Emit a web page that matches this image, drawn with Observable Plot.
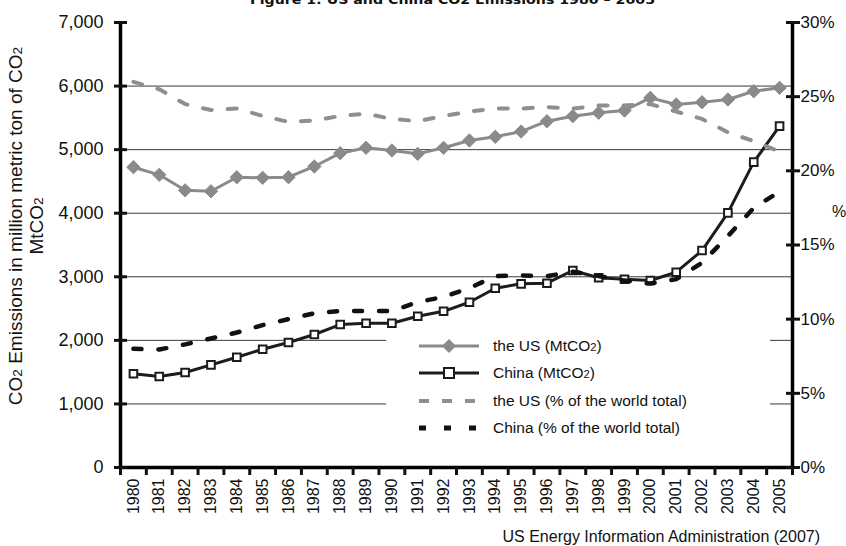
<!DOCTYPE html>
<html>
<head>
<meta charset="utf-8">
<script src="https://cdn.jsdelivr.net/npm/d3@7"></script>
<script src="https://cdn.jsdelivr.net/npm/@observablehq/plot@0.6"></script>
<style>
  body { margin: 0; background: #fff; }
  #wrap { position: relative; width: 846px; height: 546px; overflow: hidden; background: #fff;
          font-family: "Liberation Sans", Arial, sans-serif; color: #111; }
  #title { position: absolute; left: 0; top: -9px; width: 846px; }
  #ylabel { position: absolute; left: 27px; top: 226px; transform: translate(-50%, -50%) rotate(-90deg);
            white-space: nowrap; text-align: center; font-size: 19px; line-height: 19px; }
  #pct { position: absolute; left: 832px; top: 203px; font-size: 16px; }
  #caption { position: absolute; right: 26px; top: 528px; font-size: 16px; white-space: nowrap; }
  #legend { position: absolute; left: 386px; top: 333px; width: 384px; height: 108px; background: #fff; }
  .row { position: absolute; left: 0; height: 20px; display: flex; align-items: center; font-size: 15.5px; white-space: nowrap; }
  .row svg { margin-left: 33px; margin-right: 14px; }
  .sub { font-size: 72%; }
</style>
</head>
<body>
<div id="wrap">
  <svg id="title" height="20" width="846"></svg>
  <div id="ylabel">CO<span class="sub">2</span> Emissions in million metric ton of CO<span class="sub">2</span><br>MtCO<span class="sub">2</span></div>
  <div id="pct">%</div>
  <div id="legend"></div>
  <div id="caption">US Energy Information Administration (2007)</div>
</div>
<script>
// Emissions by year, 1980–2005
const years = [1980, 1981, 1982, 1983, 1984, 1985, 1986, 1987, 1988, 1989, 1990, 1991, 1992,
               1993, 1994, 1995, 1996, 1997, 1998, 1999, 2000, 2001, 2002, 2003, 2004, 2005];

// million metric tons of CO2
const usMt = [4724, 4604, 4360, 4345, 4566, 4557, 4566, 4735, 4944, 5029, 4987, 4934, 5029,
              5144, 5202, 5285, 5447, 5526, 5580, 5616, 5815, 5710, 5746, 5789, 5919, 5973];
const chinaMt = [1474, 1431, 1494, 1615, 1735, 1861, 1966, 2092, 2249, 2270, 2270, 2380, 2457,
                 2600, 2820, 2889, 2899, 3099, 2984, 2962, 2942, 3072, 3413, 4006, 4803, 5369];

// share of the world total, %
const usPct = [26.0, 25.5, 24.5, 24.1, 24.2, 23.7, 23.3, 23.4, 23.7, 23.85, 23.5, 23.35, 23.7,
               24.0, 24.2, 24.2, 24.3, 24.2, 24.4, 24.4, 24.5, 24.0, 23.5, 22.6, 22.0, 21.3];
const chinaPct = [8.0, 7.95, 8.3, 8.7, 9.1, 9.6, 10.0, 10.4, 10.55, 10.55, 10.55, 11.15, 11.5,
                  12.1, 12.9, 12.95, 12.9, 13.2, 12.9, 12.6, 12.4, 12.7, 13.8, 15.6, 17.5, 18.6];

// axis ticks
const leftTicks = [0, 1000, 2000, 3000, 4000, 5000, 6000, 7000];
const gridTicks = [1000, 2000, 3000, 4000, 5000, 6000];
const rightTicks = [0, 5, 10, 15, 20, 25, 30];

const leftMax = 7000, rightMax = 30;
const toLeft = p => p * leftMax / rightMax;           // % axis mapped onto the tonnage axis
const yearEdges = years.map(y => y - 0.5).concat([years[years.length - 1] + 0.5]);

const rows = years.map((year, i) => ({
  year, us: usMt[i], china: chinaMt[i], usP: toLeft(usPct[i]), chinaP: toLeft(chinaPct[i])
}));

const US_GRAY = "#8a8a8a", CN_BLACK = "#1c1c1c";

const chart = Plot.plot({
  width: 846,
  height: 546,
  marginTop: 22,
  marginBottom: 79,
  marginLeft: 120,
  marginRight: 54,
  x: {domain: [yearEdges[0], yearEdges[yearEdges.length - 1]], axis: null},
  y: {domain: [0, leftMax], axis: null},
  style: {fontFamily: "Liberation Sans, Arial, sans-serif", fontSize: "16px", color: "#111", background: "transparent"},
  marks: [
    Plot.gridY(gridTicks, {stroke: "#3a3a3a", strokeOpacity: 1, strokeWidth: 1}),

    Plot.line(rows, {x: "year", y: "us", stroke: US_GRAY, strokeWidth: 3}),
    Plot.dot(rows, {x: "year", y: "us", symbol: "diamond2", r: 6, fill: US_GRAY, stroke: US_GRAY, strokeWidth: 1}),

    Plot.line(rows, {x: "year", y: "china", stroke: CN_BLACK, strokeWidth: 3}),
    Plot.dot(rows, {x: "year", y: "china", symbol: "square", r: 4.3, fill: "white", stroke: CN_BLACK, strokeWidth: 2}),

    Plot.line(rows, {x: "year", y: "usP", stroke: "#8f8f8f", strokeWidth: 4, strokeDasharray: "9,16"}),
    Plot.line(rows, {x: "year", y: "chinaP", stroke: "#111", strokeWidth: 4.5, strokeDasharray: "8,17"}),

    // frame: left, right and bottom axis lines
    Plot.ruleX([yearEdges[0], yearEdges[yearEdges.length - 1]], {stroke: "#000", strokeWidth: 3.5}),
    Plot.ruleY([0], {stroke: "#000", strokeWidth: 3.5}),

    // left axis: crossing ticks + labels
    Plot.axisY(leftTicks, {anchor: "left", tickSize: 13, dx: 7, strokeWidth: 3, fill: "none", label: null}),
    Plot.axisY(leftTicks, {anchor: "left", tickSize: 0, tickPadding: 17, fontSize: 18,
                           tickFormat: d3.format(","), label: null}),

    // right axis (% of world total)
    Plot.axisY(rightTicks.map(toLeft), {anchor: "right", tickSize: 14, dx: -7, strokeWidth: 3, fill: "none", label: null}),
    Plot.axisY(rightTicks.map(toLeft), {anchor: "right", tickSize: 0, tickPadding: 8, fontSize: 17,
                                        tickFormat: v => Math.round(v * rightMax / leftMax) + "%", label: null}),

    // bottom axis: ticks between years, rotated year labels
    Plot.axisX(yearEdges, {anchor: "bottom", tickSize: 8, strokeWidth: 3, fill: "none", label: null}),
    Plot.axisX(years, {anchor: "bottom", tickSize: 0, tickPadding: 11, tickRotate: -90, fontSize: 16,
                       tickFormat: d => String(d), label: null})
  ]
});
chart.style.position = "absolute";
chart.style.left = "0";
chart.style.top = "0";
document.getElementById("wrap").prepend(chart);

// title, partly cut off at the top edge
d3.select("#title").append("text")
  .attr("x", 250).attr("y", 13)
  .attr("textLength", 405).attr("lengthAdjust", "spacingAndGlyphs")
  .attr("font-family", "DejaVu Sans, Verdana, sans-serif")
  .attr("font-weight", "bold").attr("font-size", 13).attr("fill", "#111")
  .text("Figure 1: US and China CO2 Emissions 1980 – 2005");

// legend
const legendItems = [
  {label: ["the US (MtCO", "2", ")"], stroke: US_GRAY, width: 3, dash: null, symbol: "diamond"},
  {label: ["China (MtCO", "2", ")"], stroke: CN_BLACK, width: 3, dash: null, symbol: "square"},
  {label: ["the US (% of the world total)"], stroke: "#8f8f8f", width: 4, dash: "10,13"},
  {label: ["China (% of the world total)"], stroke: "#111", width: 5, dash: "7,18"}
];
const legend = d3.select("#legend");
legendItems.forEach((item, i) => {
  const row = legend.append("div").attr("class", "row").style("top", `${3 + i * 27.3}px`);
  const svg = row.append("svg").attr("width", 60).attr("height", 16);
  svg.append("line").attr("x1", 0).attr("x2", 60).attr("y1", 8).attr("y2", 8)
    .attr("stroke", item.stroke).attr("stroke-width", item.width)
    .attr("stroke-dasharray", item.dash);
  if (item.symbol === "diamond") {
    svg.append("path").attr("d", "M30,1L37,8L30,15L23,8Z").attr("fill", item.stroke);
  } else if (item.symbol === "square") {
    svg.append("rect").attr("x", 25).attr("y", 3).attr("width", 10).attr("height", 10)
      .attr("fill", "#fff").attr("stroke", item.stroke).attr("stroke-width", 2);
  }
  const span = row.append("span");
  span.append("span").text(item.label[0]);
  if (item.label.length > 1) {
    span.append("span").attr("class", "sub").text(item.label[1]);
    span.append("span").text(item.label[2]);
  }
});
</script>
</body>
</html>
